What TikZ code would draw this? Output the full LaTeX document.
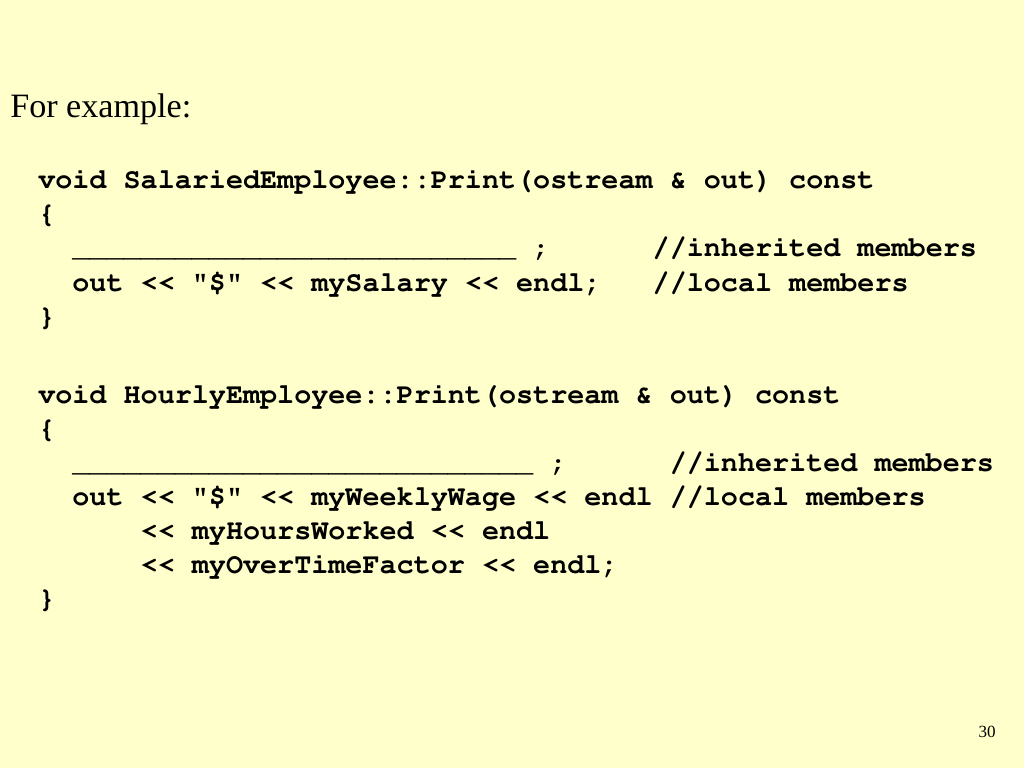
\documentclass[tikz,border=0pt]{standalone}
\usepackage{fontspec}
\setmainfont{Liberation Serif}
\definecolor{slidebg}{HTML}{FFFFCC}
\tikzset{
  codeline/.style={anchor=base west, inner sep=0pt, font=\fontencoding{T1}\fontfamily{pcr}\fontsize{20}{24}\selectfont\bfseries},
  plainline/.style={anchor=base west, inner sep=0pt, font=\fontsize{24}{28}\selectfont}
}
\newcommand{\blanks}[1]{\foreach \k in {1,...,#1}{\_}}
\newcommand{\shl}{<{}<}
\begin{document}
\frenchspacing
\begin{tikzpicture}[x=0.703125pt, y=-0.703125pt]
    \fill[slidebg] (0,0) rectangle (1024,768);
    \node[plainline] (title) at (10,118) {For example:};
    % SalariedEmployee
    \node[codeline] (s1) at (38,189) {void SalariedEmployee::Print(ostream \& out) const};
    \node[codeline] (s2) at (38,223) {\{};
    \node[codeline] (s3) at (38,257) {~~\blanks{26}~{\mdseries;}~~~~~~//inherited members};
    \node[codeline] (s4) at (38,291) {~~out \shl{} "\$" \shl{} mySalary \shl{} endl;~~~//local members};
    \node[codeline] (s5) at (38,325) {\}};
    % HourlyEmployee
    \node[codeline] (h1) at (38,403) {void HourlyEmployee::Print(ostream \& out) const};
    \node[codeline] (h2) at (38,437) {\{};
    \node[codeline] (h3) at (38,471) {~~\blanks{27}~{\mdseries;}~~~~~~//inherited members};
    \node[codeline] (h4) at (38,505) {~~out \shl{} "\$" \shl{} myWeeklyWage \shl{} endl //local members};
    \node[codeline] (h5) at (38,539) {~~~~~~\shl{} myHoursWorked \shl{} endl};
    \node[codeline] (h6) at (38,573) {~~~~~~\shl{} myOverTimeFactor \shl{} endl;};
    \node[codeline] (h7) at (38,607) {\}};
    \node[anchor=base east, inner sep=0pt, font=\fontsize{12}{14}\selectfont] (page) at (996,737) {30};
\end{tikzpicture}
\end{document}
